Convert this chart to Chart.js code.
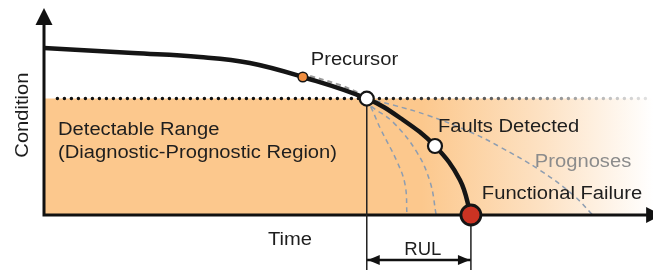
<!DOCTYPE html>
<html>
<head>
<meta charset="utf-8">
<script src="https://cdn.jsdelivr.net/npm/chart.js@4/dist/chart.umd.min.js"></script>
<style>
  html, body { margin: 0; padding: 0; background: #fff; }
  #wrap { width: 653px; height: 270px; position: relative; }
</style>
</head>
<body>
<div id="wrap"><canvas id="myChart"></canvas></div>
<script>
// time (0-100) and condition (0-100) units
var curveTime = [0, 14.6, 25.6, 33.8, 42.5, 53.0, 58.5, 64.2, 68.3, 70.1];
var curveCond = [81.1, 78.6, 76.7, 73.8, 67.0, 56.5, 47.1, 33.5, 17.0, 0];

var threshold = 56.5;

var eventNames = ["Precursor", "Detection", "Faults Detected", "Functional Failure"];
var eventTime = [42.5, 53.0, 64.2, 70.1];
var eventCond = [67.0, 56.5, 33.5, 0];

var progATime = [53.0, 53.9, 55.2, 58.0, 59.3, 59.6];
var progACond = [56.5, 51.0, 42.2, 25.7, 14.6, 0];
var progBTime = [53.0, 53.5, 57.3, 61.2, 63.4, 64.4];
var progBCond = [56.5, 53.4, 45.1, 30.6, 16.0, 0];
var progCTime = [53.0, 57.3, 62.9, 70.0, 74.9, 81.4, 86.9, 90.1];
var progCCond = [56.5, 53.4, 48.5, 40.3, 33.0, 21.8, 9.7, 0];
var shadowTime = [43.7, 48.6, 52.2];
var shadowCond = [67.5, 63.1, 58.7];

var rulStart = 53.0;
var rulEnd = 70.1;
var rulLevel = -21.8;
var guideBottom = -26.7;

var labelTexts = ["Precursor", "Faults Detected", "Prognoses", "Functional Failure",
	"Detectable Range", "(Diagnostic-Prognostic Region)", "Time", "RUL", "Condition"];

function pts(xs, ys) {
	var out = [];
	for (var i = 0; i < xs.length; i++) {
		out.push({x: xs[i], y: ys[i]});
	}
	return out;
}

var orange = "rgb(252,200,141)";

function fillGradient(c) {
	var area = c.chart.chartArea;
	if (!area) return orange;
	var g = c.chart.ctx.createLinearGradient(area.left, 0, area.right, 0);
	g.addColorStop(0, orange);
	g.addColorStop(0.62, orange);
	g.addColorStop(0.82, "rgb(253,226,196)");
	g.addColorStop(1, "rgb(255,255,255)");
	return g;
}

function dotGradient(c) {
	var area = c.chart.chartArea;
	if (!area) return "#111";
	var g = c.chart.ctx.createLinearGradient(area.left, 0, area.right, 0);
	g.addColorStop(0, "#111");
	g.addColorStop(0.53, "#111");
	g.addColorStop(0.75, "#666");
	g.addColorStop(1, "#e6e6e6");
	return g;
}

function head(ctx, px, py, dx, dy, len, half) {
	var bx = px - dx * len, by = py - dy * len;
	ctx.beginPath();
	ctx.moveTo(px, py);
	ctx.lineTo(bx - dy * half, by + dx * half);
	ctx.lineTo(bx + dy * half, by - dx * half);
	ctx.closePath();
	ctx.fill();
}

// label placement (time, condition units)
var labelPos = [
	{t: 43.8, c: 72.8},
	{t: 64.7, c: 40.3},
	{t: 80.6, c: 23.3, color: "#8c8c8c"},
	{t: 71.9, c: 7.8},
	{t: 2.3, c: 38.8},
	{t: 2.3, c: 27.7},
	{t: 40.4, c: -14.6, align: "center"},
	{t: 62.2, c: -19.4, align: "center", sx: 1.03},
	{t: -2.6, c: 48.5, align: "center", rot: -Math.PI / 2}
];

var decor = {
	id: "decor",
	afterDatasetsDraw: function (chart) {
		var ctx = chart.ctx, x = chart.scales.x, y = chart.scales.y;
		ctx.save();
		ctx.fillStyle = "#111";
		// axis heads
		head(ctx, x.getPixelForValue(0), y.getPixelForValue(100.5), 0, -1, 17, 8.5);
		head(ctx, x.getPixelForValue(101.5), y.getPixelForValue(0), 1, 0, 16, 8);
		// RUL heads
		var ry = y.getPixelForValue(rulLevel);
		head(ctx, x.getPixelForValue(rulStart) + 1, ry, -1, 0, 12, 5);
		head(ctx, x.getPixelForValue(rulEnd) - 1, ry, 1, 0, 12, 5);

		for (var i = 0; i < labelTexts.length; i++) {
			var p = labelPos[i];
			ctx.save();
			ctx.translate(x.getPixelForValue(p.t), y.getPixelForValue(p.c));
			if (p.rot) ctx.rotate(p.rot);
			ctx.scale(p.sx || 1.12, 1);
			ctx.font = '18px "Liberation Sans", Arial, sans-serif';
			ctx.fillStyle = p.color || "#1e1e1e";
			ctx.textAlign = p.align || "left";
			ctx.textBaseline = "alphabetic";
			ctx.fillText(labelTexts[i], 0, 0);
			ctx.restore();
		}
		ctx.restore();
	}
};

var dash = {borderColor: "#8d9db1", borderWidth: 1.5, borderDash: [5, 4], tension: 0.4, pointRadius: 0, order: 4, clip: false};

new Chart("myChart", {
	type: "line",
	data: {
		datasets: [
			{
				data: pts(eventTime, eventCond),
				showLine: false,
				pointRadius: [4.8, 7, 7, 10],
				pointBackgroundColor: ["#f08e40", "#ffffff", "#ffffff", "#cc3323"],
				pointBorderColor: "#151515",
				pointBorderWidth: [1.5, 2.2, 2.2, 2.8],
				order: 0,
				clip: false
			},
			{
				data: pts(curveTime, curveCond),
				borderColor: "#151515",
				borderWidth: 4.5,
				tension: 0.4,
				pointRadius: 0,
				order: 1,
				clip: false
			},
			{
				data: [{x: rulStart, y: threshold}, {x: rulStart, y: guideBottom}],
				borderColor: "#222", borderWidth: 1.5, pointRadius: 0, order: 2, clip: false
			},
			{
				data: [{x: rulEnd, y: 0}, {x: rulEnd, y: guideBottom}],
				borderColor: "#222", borderWidth: 1.5, pointRadius: 0, order: 2, clip: false
			},
			{
				data: [{x: rulStart, y: rulLevel}, {x: rulEnd, y: rulLevel}],
				borderColor: "#111", borderWidth: 2.5, pointRadius: 0, order: 2, clip: false
			},
			{
				data: [{x: 0, y: 92.2}, {x: 0, y: 0}, {x: 99, y: 0}],
				borderColor: "#111", borderWidth: 3, pointRadius: 0, tension: 0, order: 3, clip: false
			},
			Object.assign({data: pts(progATime, progACond)}, dash),
			Object.assign({data: pts(progBTime, progBCond)}, dash),
			Object.assign({data: pts(progCTime, progCCond)}, dash),
			Object.assign({data: pts(shadowTime, shadowCond)}, dash, {borderColor: "rgba(110,110,110,0.7)", borderWidth: 2}),
			{
				data: [{x: 2.2, y: threshold}, {x: 99.5, y: threshold}],
				borderColor: dotGradient,
				borderWidth: 3.5,
				borderDash: [0, 7],
				borderCapStyle: "round",
				pointRadius: 0,
				order: 5,
				clip: false
			},
			{
				data: [{x: 0, y: threshold}, {x: 100, y: threshold}],
				borderWidth: 0,
				pointRadius: 0,
				fill: "origin",
				backgroundColor: fillGradient,
				order: 6
			}
		]
	},
	options: {
		responsive: true,
		maintainAspectRatio: false,
		animation: false,
		layout: {autoPadding: false, padding: {left: 44, right: 0, top: 9, bottom: 55}},
		scales: {
			x: {type: "linear", min: 0, max: 100, display: false},
			y: {min: 0, max: 100, display: false}
		},
		plugins: {
			legend: {display: false},
			tooltip: {enabled: false}
		}
	},
	plugins: [decor]
});
</script>
</body>
</html>
